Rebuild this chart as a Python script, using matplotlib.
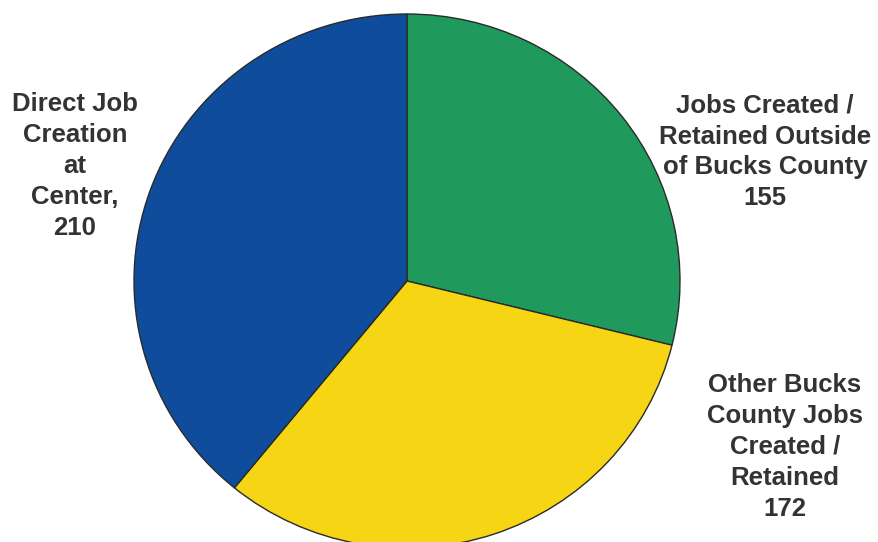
import matplotlib.pyplot as plt

# slice data (clockwise from 12 o'clock)
labels = ["Jobs Created /\nRetained Outside\nof Bucks County\n155",
          "Other Bucks\nCounty Jobs\nCreated /\nRetained\n172",
          "Direct Job\nCreation\nat\nCenter,\n210"]
values = [155, 172, 210]
colors = ["#1f9a5c", "#f6d514", "#0f4c9c"]

# label positions in pixels (from top-left)
label_xy = [(765, 152), (785, 447), (75, 166)]

W, H = 879, 542
fig = plt.figure(figsize=(W / 100, H / 100), dpi=100)

# pie bounding box in pixels (slightly wider than tall, like the scan)
left, right, top, bottom = 134, 680, 14, 548
ax = fig.add_axes([left / W, (H - bottom) / H, (right - left) / W, (bottom - top) / H])
ax.pie(values, colors=colors, startangle=90, counterclock=False,
       wedgeprops=dict(edgecolor="#2a2a2a", linewidth=1.0))
ax.set_aspect("auto")
ax.set_xlim(-1, 1)
ax.set_ylim(-1, 1)
ax.axis("off")

for lab, (x, y) in zip(labels, label_xy):
    fig.text(x / W, 1 - y / H, lab, ha="center", va="center", fontsize=18.5,
             fontweight="bold", color="#333333", family="Liberation Sans",
             linespacing=1.36)

fig.savefig("out.png", dpi=100)
